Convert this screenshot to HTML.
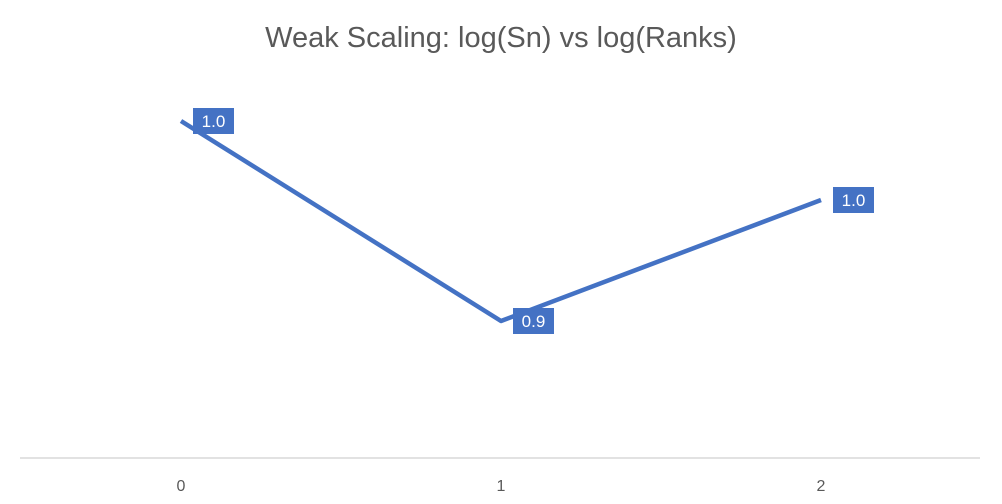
<!DOCTYPE html>
<html><head><meta charset="utf-8"><style>
html,body{margin:0;padding:0;background:#fff;}
svg{display:block;font-family:"Liberation Sans",Arial,sans-serif;}
</style></head><body>
<svg id="chart" width="1002" height="504" viewBox="0 0 1002 504">
<text x="501" y="47" text-anchor="middle" font-size="29" fill="#595959">Weak Scaling: log(Sn) vs log(Ranks)</text>
<line x1="20" y1="458" x2="980" y2="458" stroke="#d9d9d9" stroke-width="1.5"/>
<g id="ticks"></g>
<g id="series"></g>
<g id="labels"></g>
</svg>
<script>
const categories = [0, 1, 2];
const values = [1.0, 0.9, 0.9605];
const tickLabels = ["0", "1", "2"];
const yMin = 0.8315, yMax = 1.0;
function xPos(i){ return 181 + i * 320; }
function yPos(v){ return 458 - (v - yMin) / (yMax - yMin) * (458 - 121); }
const NS = "http://www.w3.org/2000/svg";
const ticks = document.getElementById('ticks');
tickLabels.forEach((t, i) => {
  const el = document.createElementNS(NS, 'text');
  el.setAttribute('x', xPos(i)); el.setAttribute('y', 491);
  el.setAttribute('text-anchor', 'middle'); el.setAttribute('font-size', '16'); el.setAttribute('fill', '#595959');
  el.textContent = t;
  
  
  ticks.appendChild(el);
});
const series = document.getElementById('series');
const line = document.createElementNS(NS, 'polyline');
line.setAttribute('points', values.map((v, i) => xPos(i) + ',' + yPos(v)).join(' '));
line.setAttribute('fill', 'none'); line.setAttribute('stroke', '#4472C4'); line.setAttribute('stroke-width', '4.5');
line.setAttribute('stroke-linejoin', 'round');


series.appendChild(line);
const labels = document.getElementById('labels');
values.forEach((v, i) => {
  const x = xPos(i), y = yPos(v);
  const g = document.createElementNS(NS, 'g');
  
  
  const r = document.createElementNS(NS, 'rect');
  r.setAttribute('x', x + 12); r.setAttribute('y', y - 13); r.setAttribute('width', 41); r.setAttribute('height', 26);
  r.setAttribute('fill', '#4472C4');
  g.appendChild(r);
  const t = document.createElementNS(NS, 'text');
  t.setAttribute('x', x + 32.5); t.setAttribute('y', y + 6);
  t.setAttribute('text-anchor', 'middle'); t.setAttribute('font-size', '17'); t.setAttribute('fill', '#fff');
  t.textContent = v.toFixed(1);
  g.appendChild(t);
  labels.appendChild(g);
});
</script>
</body></html>
